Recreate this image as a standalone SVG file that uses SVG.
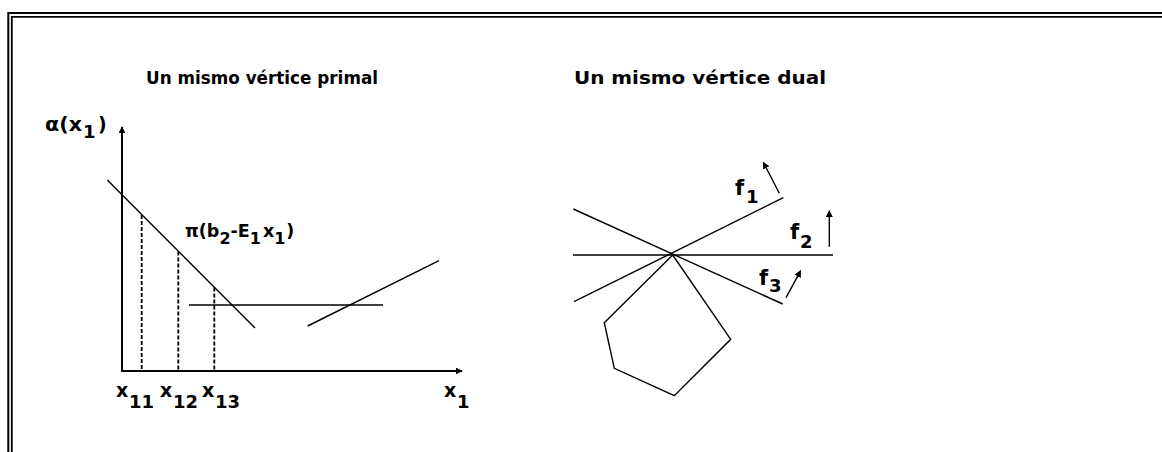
<svg xmlns="http://www.w3.org/2000/svg" width="1162" height="452" viewBox="0 0 1162 452">
<defs>
<style>
.ln{stroke:#000;stroke-width:1.4;fill:none}
.ax{stroke:#000;stroke-width:2;fill:none}
.ds{stroke:#000;stroke-width:1.8;stroke-dasharray:4 2;fill:none}
.fr{stroke:#000;fill:none}
text{font-family:"DejaVu Sans","Liberation Sans",Arial,sans-serif;font-weight:bold;fill:#000}
.t{font-size:17px}
.l{font-size:19px}
.s{font-size:18px}
.f{font-size:21px}
.p{font-size:17.5px}
.ps{font-size:16px}
</style>
<marker id="ah" viewBox="0 0 10 10" refX="9" refY="5" markerWidth="7" markerHeight="7" markerUnits="userSpaceOnUse" orient="auto">
<path d="M0,0 L10,5 L0,10 z" fill="#000"/>
</marker>
</defs>
<rect width="1162" height="452" fill="#fff"/>
<g id="frame">
<path class="fr" stroke-width="2" d="M8.3,452 V13 H1162"/>
<path class="fr" stroke-width="1.8" d="M11.8,452 V16.8 H1162"/>
</g>
<g id="titles">
<text class="t" x="146" y="84" textLength="232" lengthAdjust="spacingAndGlyphs">Un mismo vértice primal</text>
<text class="t" x="574" y="84" textLength="252" lengthAdjust="spacingAndGlyphs">Un mismo vértice dual</text>
</g>
<g id="primal">
<g id="axes">
<line class="ax" x1="122" y1="371" x2="122" y2="127" marker-end="url(#ah)"/>
<line class="ax" x1="121" y1="371" x2="462" y2="371" marker-end="url(#ah)"/>
</g>
<g id="lines">
<line class="ln" x1="107.3" y1="180" x2="255" y2="328"/>
<line class="ln" x1="189" y1="305" x2="383" y2="305"/>
<line class="ln" x1="307.7" y1="326" x2="439" y2="260.7"/>
</g>
<g id="dashes">
<line class="ds" x1="141.7" y1="215" x2="141.7" y2="370"/>
<line class="ds" x1="178.3" y1="251.5" x2="178.3" y2="370"/>
<line class="ds" x1="214.3" y1="287.5" x2="214.3" y2="370"/>
</g>
<g id="alpha-label">
<text class="l"><tspan x="45" y="131" textLength="37" lengthAdjust="spacingAndGlyphs">α(x</tspan><tspan class="s" x="83" y="138">1</tspan><tspan x="98" y="131">)</tspan></text>
</g>
<g id="pi-label">
<text class="p" x="185" y="237">π(b<tspan class="ps" dy="7">2</tspan><tspan dy="-7">-E</tspan><tspan class="ps" dy="7">1</tspan><tspan dx="2" dy="-7">x</tspan><tspan class="ps" dy="7">1</tspan><tspan dx="1" dy="-7">)</tspan></text>
</g>
<g id="x-labels">
<text class="l"><tspan x="116" y="397">x</tspan><tspan class="s" x="129" y="408">11</tspan></text>
<text class="l"><tspan x="160" y="397">x</tspan><tspan class="s" x="173" y="408">12</tspan></text>
<text class="l"><tspan x="202" y="397">x</tspan><tspan class="s" x="215" y="408">13</tspan></text>
<text class="l"><tspan x="444" y="397">x</tspan><tspan class="s" x="457" y="408">1</tspan></text>
</g>
</g>
<g id="dual">
<g id="constraints">
<line class="ln" x1="573" y1="255" x2="833" y2="255"/>
<line class="ln" x1="573.3" y1="209" x2="782.7" y2="304"/>
<line class="ln" x1="574" y1="301.7" x2="783.3" y2="197.7"/>
</g>
<polygon id="region" class="ln" points="672.7,255 730.7,339.3 674.3,395.7 614.3,368.3 604.3,322.7"/>
<g id="f-arrows">
<line class="ln" x1="779.3" y1="193.3" x2="763.3" y2="162.3" marker-end="url(#ah)"/>
<line class="ln" x1="829.3" y1="246.7" x2="829.3" y2="210.7" marker-end="url(#ah)"/>
<line class="ln" x1="786" y1="297.7" x2="800.7" y2="270.7" marker-end="url(#ah)"/>
</g>
<g id="f-labels">
<text class="f"><tspan x="735" y="195">f</tspan><tspan class="s" x="746" y="203">1</tspan></text>
<text class="f"><tspan x="790" y="239">f</tspan><tspan class="s" x="800" y="248">2</tspan></text>
<text class="f"><tspan x="759" y="285">f</tspan><tspan class="s" x="769" y="292">3</tspan></text>
</g>
</g>
</svg>
